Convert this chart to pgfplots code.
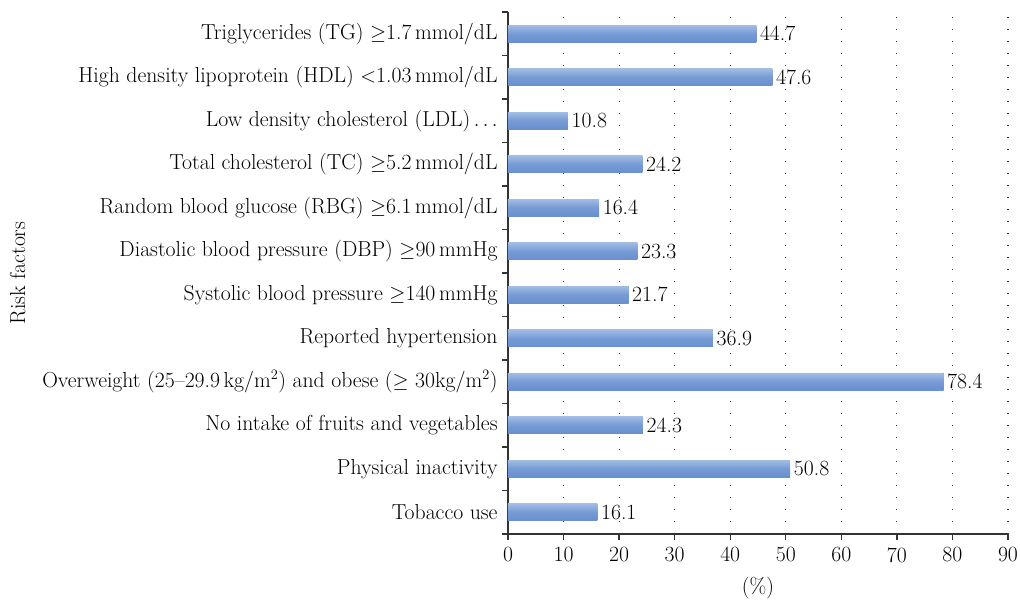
\documentclass[border=0pt]{standalone}
\usepackage{pgfplots}
\pgfplotsset{compat=1.18}
\definecolor{bartop}{RGB}{160,188,228}
\definecolor{barmid}{RGB}{118,154,212}
\definecolor{barbot}{RGB}{104,144,206}
\def\fs{\fontsize{21.7bp}{26bp}\selectfont}
\begin{document}
\fs
\begin{tikzpicture}
\useasboundingbox (-508bp,-66bp) rectangle (512bp,534bp);
\begin{axis}[
  at={(0,0)}, anchor=south west,
  scale only axis, width=500bp, height=522bp,
  xmin=0, xmax=90, ymin=-0.5, ymax=11.5,
  xtick={0,10,...,90},
  ytick={0,...,11},
  yticklabels={
    {Tobacco use},
    {Physical inactivity},
    {No intake of fruits and vegetables},
    {Overweight (25--29.9\,kg/m$^2$) and obese ($\geq$ 30kg/m$^2$)},
    {Reported hypertension},
    {Systolic blood pressure $\geq$140\,mmHg},
    {Diastolic blood pressure (DBP) $\geq$90\,mmHg},
    {Random blood glucose (RBG) $\geq$6.1\,mmol/dL},
    {Total cholesterol (TC) $\geq$5.2\,mmol/dL},
    {Low density cholesterol (LDL)$\,.\,.\,.$},
    {High density lipoprotein (HDL) $<$1.03\,mmol/dL},
    {Triglycerides (TG) $\geq$1.7\,mmol/dL}},
  minor ytick={-0.5,0.5,...,11.5},
  axis x line*=bottom, axis y line*=left,
  axis line style={black!80, line width=1.3bp},
  tick align=outside,
  major tick length=6bp, minor tick length=6bp,
  every major y tick/.append style={draw=none},
  every minor y tick/.append style={black!80, line width=1.3bp},
  every major x tick/.append style={black!80, line width=1.3bp},
  yticklabel style={xshift=3bp},
  xmajorgrids,
  major x grid style={black!75, line width=1.2bp, dash pattern=on 1.2bp off 10.8bp},
  /pgf/number format/assume math mode=true,
  tick label style={font=\fs},
  label style={font=\fs},
  xlabel={(\%)},
  ylabel={Risk factors},
  ylabel shift=2bp,
  xbar, bar width=17bp, bar shift=0pt,
  nodes near coords,
  point meta=x,
  nodes near coords style={font=\fs, black, anchor=west, inner sep=3.5bp,
    /pgf/number format/.cd, fixed, precision=1, fixed zerofill, assume math mode=true},
  every axis plot/.append style={draw=none, top color=bartop, bottom color=barbot, middle color=barmid},
  clip=false,
]
\addplot coordinates {(16.1,0)};
\addplot coordinates {(50.8,1)};
\addplot coordinates {(24.3,2)};
\addplot coordinates {(78.4,3)};
\addplot coordinates {(36.9,4)};
\addplot coordinates {(21.7,5)};
\addplot coordinates {(23.3,6)};
\addplot coordinates {(16.4,7)};
\addplot coordinates {(24.2,8)};
\addplot coordinates {(10.8,9)};
\addplot coordinates {(47.6,10)};
\addplot coordinates {(44.7,11)};
\end{axis}
\end{tikzpicture}
\end{document}
